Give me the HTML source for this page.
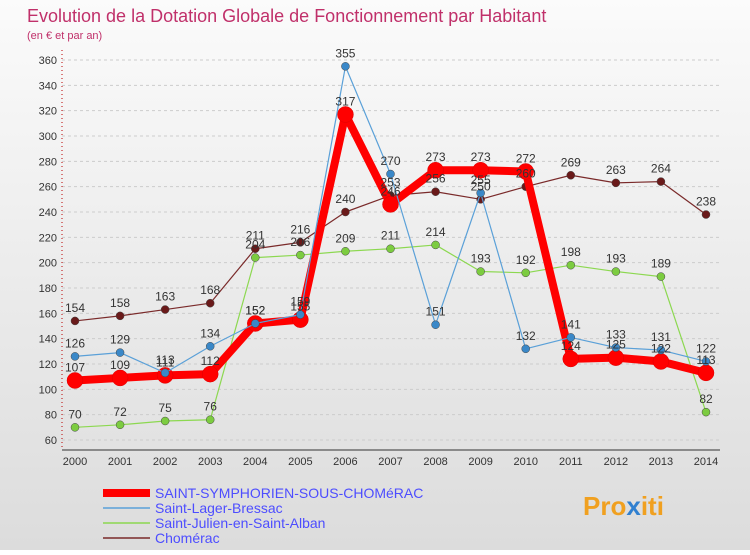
<!DOCTYPE html>
<html><head><meta charset="utf-8"><style>
body{margin:0;width:750px;height:550px;overflow:hidden;font-family:"Liberation Sans",sans-serif}
</style></head><body>
<svg id="c" width="750" height="550" xmlns="http://www.w3.org/2000/svg">
<defs><linearGradient id="bg" x1="0" y1="0" x2="0" y2="1"><stop offset="0" stop-color="#fbfbfb"/><stop offset="1" stop-color="#dcdcdc"/></linearGradient></defs>
<rect width="750" height="550" fill="url(#bg)"/>
<text x="27" y="22" font-size="18" fill="#c0306a">Evolution de la Dotation Globale de Fonctionnement par Habitant</text>
<text x="27" y="39" font-size="11" fill="#c0306a">(en € et par an)</text>
<g id="grid"></g><g id="axes"></g><g id="series"></g><g id="labels"></g>
<g>
<line x1="103" y1="493" x2="150" y2="493" stroke="#f00" stroke-width="8"/>
<text x="155" y="498" font-size="14" fill="#4d4dff">SAINT-SYMPHORIEN-SOUS-CHOMéRAC</text>
<line x1="103" y1="508" x2="150" y2="508" stroke="#5aa0d8" stroke-width="1.5"/>
<text x="155" y="513" font-size="14" fill="#4d4dff">Saint-Lager-Bressac</text>
<line x1="103" y1="523" x2="150" y2="523" stroke="#8cd850" stroke-width="1.5"/>
<text x="155" y="528" font-size="14" fill="#4d4dff">Saint-Julien-en-Saint-Alban</text>
<line x1="103" y1="538" x2="150" y2="538" stroke="#7a2a2a" stroke-width="1.5"/>
<text x="155" y="543" font-size="14" fill="#4d4dff">Chomérac</text>
</g>
<text x="583" y="515" font-size="26" font-weight="bold" fill="#f0a020">Pro<tspan fill="#3080d0">x</tspan>iti</text>
</svg>
<script>
const years=[2000,2001,2002,2003,2004,2005,2006,2007,2008,2009,2010,2011,2012,2013,2014];
const yTicks=[60,80,100,120,140,160,180,200,220,240,260,280,300,320,340,360];
const symphorien=[107,109,111,112,152,155,317,246,273,273,272,124,125,122,113];
const lager=[126,129,113,134,152,159,355,270,151,255,132,141,133,131,122];
const julien=[70,72,75,76,204,206,209,211,214,193,192,198,193,189,82];
const chomerac=[154,158,163,168,211,216,240,253,256,250,260,269,263,264,238];
const NS="http://www.w3.org/2000/svg";
const X=i=>75+i*(706-75)/14;
const Y=v=>440-(v-60)*(380/300);
function mk(p,t,a){const e=document.createElementNS(NS,t);for(const k in a)e.setAttribute(k,a[k]);p.appendChild(e);return e;}
const grid=document.getElementById('grid'),axes=document.getElementById('axes');
yTicks.forEach(v=>{
 const l=mk(grid,'line',{x1:62,x2:720,y1:Y(v),y2:Y(v),stroke:'#ccc','stroke-dasharray':'3,3'});
 
 
 const t=mk(axes,'text',{x:57,y:Y(v)+4,'font-size':11,'text-anchor':'end',fill:'#333'});t.textContent=v;
 
 
});
const ya=mk(axes,'line',{x1:62,x2:62,y1:50,y2:450,stroke:'#b00','stroke-dasharray':'1,3'});


const xa=mk(axes,'line',{x1:62,x2:720,y1:450,y2:450,stroke:'#333'});


years.forEach((y,i)=>{
 const t=mk(axes,'text',{x:X(i),y:465,'font-size':11,'text-anchor':'middle',fill:'#333'});t.textContent=y;
 
 
});
const ser=document.getElementById('series'),lab=document.getElementById('labels');
function draw(d,name,col,w,r,dot){
 const g=mk(ser,'g',{});
 
 
 const pl=mk(g,'polyline',{points:d.map((v,i)=>X(i)+','+Y(v)).join(' '),fill:'none',stroke:col,'stroke-width':w,'stroke-linejoin':'round'});
 
 
 d.forEach((v,i)=>{
  const c=mk(g,'circle',{cx:X(i),cy:Y(v),r:r,fill:dot,stroke:col==='#f00'?'#d00':'#444','stroke-width':0.5});
  
  
  const t=mk(lab,'text',{x:X(i),y:Y(v)-9,'font-size':12,'text-anchor':'middle',fill:'#333'});t.textContent=v;
  
  
 });
}
draw(chomerac,'chomerac','#7a2a2a',1.2,4,'#6a1a1a');
draw(julien,'saint-julien','#8cd850',1.2,4,'#7ccc40');
draw(symphorien,'saint-symphorien','#f00',8,8,'#f00');
draw(lager,'saint-lager','#5aa0d8',1.2,4,'#3a88c8');
</script>
</body></html>
